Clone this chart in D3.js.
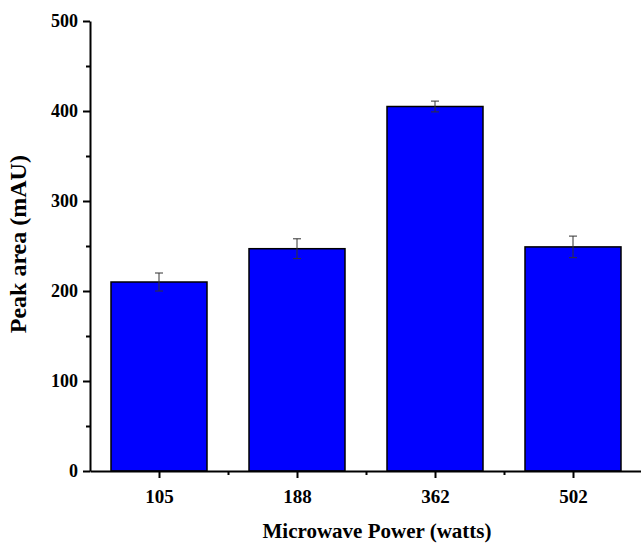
<!DOCTYPE html>
<html>
<head>
<meta charset="utf-8">
<script src="https://cdn.jsdelivr.net/npm/d3@7"></script>
<style>
  body { margin: 0; background: #fff; }
  text { font-family: "Liberation Serif", "Times New Roman", serif; font-weight: bold; }
</style>
</head>
<body>
<svg id="chart" width="641" height="545"></svg>
<script>
// Data
const powers = ["105", "188", "362", "502"];
const peakArea = [210, 247, 405, 249];
const peakErr = [10, 11, 6, 12];
const yTicks = [0, 100, 200, 300, 400, 500];

const margin = { top: 21, right: 0, bottom: 74, left: 90 };
const width = 641 - margin.left - margin.right;
const height = 545 - margin.top - margin.bottom;

const svg = d3.select("#chart")
    .append("g")
    .attr("transform", "translate(" + margin.left + "," + margin.top + ")");

// category index on a linear scale so the axis can run past the last bar
const x = d3.scaleLinear().domain([0.5, 4.5]).range([0, 552]);
const y = d3.scaleLinear().domain([0, 500]).range([height, 0]);
const barW = 96 / 138;

const data = powers.map((p, i) => ({ p: p, i: i + 1, v: peakArea[i], e: peakErr[i] }));

// bars
svg.selectAll(".bar")
    .data(data)
    .enter()
    .append("rect")
    .attr("class", "bar")
    .attr("x", d => x(d.i - barW / 2))
    .attr("width", x(barW) - x(0))
    .attr("y", d => y(d.v))
    .attr("height", d => height - y(d.v))
    .attr("fill", "#0000ff")
    .attr("stroke", "#000")
    .attr("stroke-width", 1.5);

// error bars
const capW = 4;
svg.selectAll(".err")
    .data(data)
    .enter()
    .append("path")
    .attr("class", "err")
    .attr("d", d => {
        const cx = x(d.i);
        const t = y(d.v + d.e), b = y(d.v - d.e);
        return `M${cx},${t}V${b}M${cx - capW},${t}H${cx + capW}M${cx - capW},${b}H${cx + capW}`;
    })
    .attr("fill", "none")
    .attr("stroke", "#333")
    .attr("stroke-width", 1);

// y axis
svg.append("g")
    .attr("class", "y-axis")
    .call(d3.axisLeft(y).tickValues(yTicks).tickSize(7).tickSizeOuter(0).tickPadding(5));
svg.append("g")
    .call(d3.axisLeft(y).tickValues(d3.range(50, 500, 100)).tickSize(4).tickFormat(""))
    .call(g => g.select(".domain").remove());

// x axis
svg.append("g")
    .attr("class", "x-axis")
    .attr("transform", "translate(0," + height + ")")
    .call(d3.axisBottom(x).tickValues(data.map(d => d.i)).tickFormat((d, i) => powers[i])
        .tickSize(7).tickSizeOuter(0).tickPadding(12));
svg.append("g")
    .attr("transform", "translate(0," + height + ")")
    .call(d3.axisBottom(x).tickValues([1.5, 2.5, 3.5]).tickSize(4).tickFormat(""))
    .call(g => g.select(".domain").remove());

svg.selectAll(".domain, .tick line")
    .attr("stroke", "#000")
    .attr("stroke-width", 2);
svg.selectAll(".tick text")
    .attr("font-family", "Liberation Serif, Times New Roman, serif")
    .attr("font-weight", "bold")
    .attr("fill", "#000");
svg.selectAll(".y-axis .tick text").attr("font-size", 18);
svg.selectAll(".x-axis .tick text").attr("font-size", 19);

// axis titles
svg.append("text")
    .attr("x", x(2.5) + 11)
    .attr("y", height + 67)
    .attr("text-anchor", "middle")
    .attr("font-size", 21)
    .text("Microwave Power (watts)");

svg.append("text")
    .attr("transform", "translate(" + (-64) + "," + y(252) + ") rotate(-90)")
    .attr("text-anchor", "middle")
    .attr("font-size", 24)
    .text("Peak area (mAU)");
</script>
</body>
</html>
